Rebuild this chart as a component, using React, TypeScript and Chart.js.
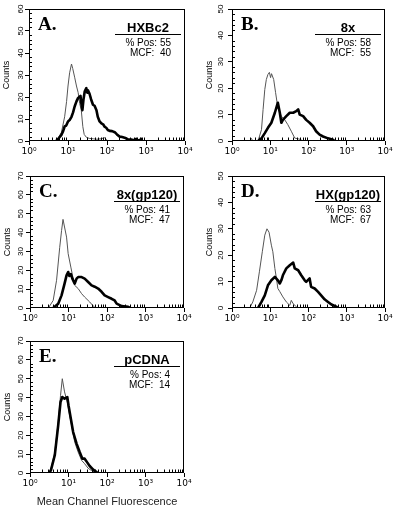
import React, { useEffect, useRef } from 'react';
import { Chart, registerables } from 'chart.js';

Chart.register(...registerables);

// ---------- tick labels & panel text ----------
const xTickValues = [1, 10, 100, 1000, 10000];
const xTickLabels = ['10⁰', '10¹', '10²', '10³', '10⁴'];
const panelLetters = ['A.', 'B.', 'C.', 'D.', 'E.'];
const sampleNames = ['HXBc2', '8x', '8x(gp120)', 'HX(gp120)', 'pCDNA'];
const percentPositive = [55, 58, 41, 63, 4];
const mcfValues = [40, 55, 47, 67, 14];
const countMax = [60, 50, 70, 50, 70];
const countStep = [10, 10, 10, 10, 10];

// ---------- Panel A ----------
const aControlX = [4.8, 5.5, 6.8, 8.2, 9.2, 10, 11, 12.3, 13.2, 14.8, 16.5, 18.2, 20, 21.9, 24, 26, 29.5, 35, 45, 55, 70, 87, 100, 120];
const aControlY = [0, 1, 4, 11, 18, 25, 31, 35, 33, 29, 25, 22, 17, 14, 6.5, 3, 1.7, 1.2, 1, 0.8, 1, 1.5, 0.3, 0];
const aStainX = [5, 5.5, 6.8, 7.5, 8.2, 9, 10, 11, 12.3, 13.5, 14.8, 16.5, 18.2, 20.9, 22, 23.4, 25, 26.9, 29.5, 31, 32.5, 35.5, 39, 43.7, 48, 53.7, 58, 64.6, 72, 79.4, 87, 95.5, 105, 117, 135, 158, 180, 209, 245, 282, 340, 417, 480, 562, 620, 700, 759, 800];
const aStainY = [0, 0.8, 2.8, 4.5, 6.6, 7, 8.9, 9.5, 11, 13, 15.7, 18, 19.6, 20.5, 17, 14, 19, 22.6, 24, 22, 23, 21.6, 19, 16.5, 16, 14, 11, 8.9, 8, 7.6, 6.5, 6, 5, 4.6, 4.5, 4, 3, 2, 1.8, 1.5, 0.8, 0.7, 0.3, 1, 0.3, 0.5, 1, 0];

// ---------- Panel B ----------
const bControlX = [2.9, 3.2, 3.5, 4.8, 5.9, 6.5, 7.2, 7.9, 8.7, 9.5, 10.2, 10.8, 12.3, 13.8, 15.8, 19.5, 24, 28.8, 35.5, 43.7, 55, 64.6, 70];
const bControlY = [0, 1, 0, 0, 4.3, 12, 19.5, 23.3, 25.2, 26, 24, 25.5, 23.3, 18.3, 12.6, 9.4, 8, 6.2, 3.7, 1.1, 0.8, 0.5, 0];
const bStainX = [4.8, 5.9, 7.2, 8.7, 10.7, 13.2, 15.8, 17.8, 19.5, 21.4, 26.3, 32.4, 39.8, 47.9, 53.7, 58.9, 72.4, 87, 107, 132, 158, 195, 240, 324, 437, 470];
const bStainY = [0, 1, 3, 5, 6.9, 10.7, 14.5, 10.7, 6.9, 8, 9.4, 10.7, 10.7, 11.3, 12, 10, 9.4, 8, 6.9, 5.6, 3.7, 2.4, 1.7, 1, 0.5, 0];

// ---------- Panel C ----------
const cControlX = [3.0, 4.0, 4.9, 5.9, 6.6, 7.2, 8.9, 9.8, 11.5, 13.2, 14.5, 17.8, 21.9, 26.3, 35.5, 43.7, 50];
const cControlY = [0, 4, 14.7, 32, 41, 47, 37.6, 28.8, 21.7, 15.6, 12, 10.3, 7.6, 5.8, 3.2, 1.1, 0];
const cStainX = [4.0, 5.4, 6.6, 7.9, 8.9, 9.8, 10.5, 11.5, 12.6, 14.5, 16.2, 17.8, 21.9, 26.3, 32.4, 39.8, 47.9, 58.9, 72.4, 87, 107, 132, 158, 178, 240, 355, 400];
const cStainY = [0, 2.3, 6.7, 12.9, 17.3, 19.1, 17, 18, 15.6, 12.9, 15.6, 16.4, 16.4, 15.6, 13.8, 12, 11.3, 10.3, 8.6, 6.7, 5.8, 4.9, 4, 2.3, 1, 0.6, 0];

// ---------- Panel D ----------
const dControlX = [2.9, 3.5, 4.4, 5.2, 6.2, 7.2, 8.2, 9.3, 10.7, 11.7, 13.2, 14.5, 15.8, 17.8, 21.4, 26.3, 32.4, 35.5, 39.8, 47.9, 52];
const dControlY = [0, 2.3, 6.7, 13.7, 21.3, 27.6, 30, 28.7, 23.8, 21.3, 15, 11.2, 7.4, 6.2, 4.2, 2.3, 1, 2.9, 1.6, 0.5, 0];
const dStainX = [4.8, 5.9, 7.2, 8.7, 10.7, 13.2, 15.8, 17.8, 19.5, 21.4, 26.3, 32.4, 39.8, 43.7, 53.7, 64.6, 79.4, 87, 107, 117, 145, 178, 214, 263, 324, 398, 537, 580];
const dStainY = [0, 2.3, 4.8, 8.6, 10.5, 11.8, 10.5, 9.3, 10.5, 12.4, 15, 16.2, 17.2, 15, 14.3, 12.4, 10.5, 9.9, 11.2, 8, 7.4, 6.1, 4.8, 3.3, 2.3, 1.3, 0.5, 0];

// ---------- Panel E ----------
const eControlX = [3.0, 3.5, 4.4, 5.4, 6.2, 6.9, 7.9, 9.3, 10.7, 12, 14.5, 17.8, 21.9, 26.3, 32.4, 39.8, 47.9, 55];
const eControlY = [0, 2.3, 11, 27, 41, 50, 43, 37.6, 30.6, 25.3, 16.4, 11.1, 6.7, 4.9, 2.5, 1.3, 0.6, 0];
const eStainX = [3.2, 3.5, 4.4, 5.4, 6.2, 6.9, 7.9, 9.3, 10, 11.5, 13.2, 16.2, 19.5, 22.9, 26.3, 30.9, 35.5, 43.7, 53.7, 60];
const eStainY = [0, 1.5, 9.4, 25.3, 37.6, 40.3, 39.4, 40.3, 35.9, 28.8, 21.7, 15.6, 11.1, 7.6, 7.6, 5.5, 3.7, 1.8, 0.5, 0];

const controlXs = [aControlX, bControlX, cControlX, dControlX, eControlX];
const controlYs = [aControlY, bControlY, cControlY, dControlY, eControlY];
const stainXs = [aStainX, bStainX, cStainX, dStainX, eStainX];
const stainYs = [aStainY, bStainY, cStainY, dStainY, eStainY];

// ---------- layout (canvas boxes and plot areas, canvas-relative) ----------
const layouts = [
  { left: 0, top: 0, w: 200, h: 165, aL: 29, aT: 9, aR: 185, aB: 141 },
  { left: 200, top: 0, w: 203, h: 165, aL: 32, aT: 9, aR: 185, aB: 141 },
  { left: 0, top: 165, w: 200, h: 165, aL: 30, aT: 11, aR: 184, aB: 143 },
  { left: 200, top: 165, w: 203, h: 165, aL: 32, aT: 11, aR: 185, aB: 143 },
  { left: 0, top: 330, w: 200, h: 185, aL: 30, aT: 11, aR: 184, aB: 143 },
];

const SANS = "'Liberation Sans', Arial, 'DejaVu Sans', sans-serif";
const TICKSANS = "'DejaVu Sans', 'Liberation Sans', sans-serif";
const SERIF = "'Liberation Serif', 'Times New Roman', serif";

function decorPlugin(i: number) {
  return {
    id: 'decor' + i,
    afterDraw(chart: any) {
      const { ctx, chartArea: a, scales } = chart;
      const xs = scales.x;
      const ys = scales.y;
      ctx.save();
      ctx.strokeStyle = '#000';
      ctx.lineWidth = 1;
      const l = Math.round(a.left) + 0.5;
      const t = Math.round(a.top) + 0.5;
      const r = Math.round(a.right) - 0.5;
      const b = Math.round(a.bottom) - 0.5;
      ctx.strokeRect(l, t, r - l, b - t);
      // minor log ticks (inward)
      ctx.beginPath();
      for (let k = 0; k < 4; k++) {
        for (let m = 2; m <= 9; m++) {
          const px = Math.round(xs.getPixelForValue(m * Math.pow(10, k))) + 0.5;
          ctx.moveTo(px, b);
          ctx.lineTo(px, b - 3);
        }
      }
      // minor count ticks (inward)
      for (let v = 2; v < countMax[i]; v += 2) {
        if (v % countStep[i] === 0) continue;
        const py = Math.round(ys.getPixelForValue(v)) + 0.5;
        ctx.moveTo(l, py);
        ctx.lineTo(l + 2.5, py);
      }
      ctx.stroke();

      // annotations
      ctx.fillStyle = '#000';
      ctx.textBaseline = 'alphabetic';
      ctx.font = `bold 19px ${SERIF}`;
      ctx.textAlign = 'left';
      ctx.fillText(panelLetters[i], a.left + 9, a.top + 21);

      ctx.font = `bold 13px ${SANS}`;
      ctx.textAlign = 'center';
      ctx.fillText(sampleNames[i], a.right - 37, a.top + 23);

      ctx.beginPath();
      ctx.moveTo(a.right - 70, Math.round(a.top + 25) + 0.5);
      ctx.lineTo(a.right - 4, Math.round(a.top + 25) + 0.5);
      ctx.stroke();

      ctx.font = `10px ${SANS}`;
      ctx.textAlign = 'right';
      ctx.fillText(`% Pos: ${percentPositive[i]}`, a.right - 14, a.top + 37);
      ctx.fillText(`MCF:  ${mcfValues[i]}`, a.right - 14, a.top + 47);
      ctx.restore();
    },
  };
}

function makeConfig(i: number): any {
  const L = layouts[i];
  const control = controlXs[i].map((x, j) => ({ x, y: controlYs[i][j] }));
  const stain = stainXs[i].map((x, j) => ({ x, y: stainYs[i][j] }));
  return {
    type: 'line',
    data: {
      datasets: [
        {
          label: 'stained',
          data: stain,
          borderColor: '#000',
          borderWidth: 2.6,
          borderJoinStyle: 'round',
          pointRadius: 0,
          tension: 0,
          fill: false,
        },
        {
          label: 'control',
          data: control,
          borderColor: '#555',
          borderWidth: 1,
          pointRadius: 0,
          tension: 0,
          fill: false,
        },
      ],
    },
    options: {
      responsive: false,
      animation: false,
      events: [],
      layout: { padding: { left: 0, top: L.aT, right: L.w - L.aR, bottom: 0 } },
      plugins: { legend: { display: false }, tooltip: { enabled: false }, title: { display: false } },
      scales: {
        x: {
          type: 'logarithmic',
          min: 1,
          max: 10000,
          afterBuildTicks: (s: any) => {
            s.ticks = xTickValues.map((v) => ({ value: v, major: true }));
          },
          afterFit: (s: any) => {
            s.height = L.h - L.aB;
          },
          ticks: {
            autoSkip: false,
            minRotation: 0,
            maxRotation: 0,
            padding: 1,
            color: '#000',
            font: { family: TICKSANS, size: 9 },
            callback: (_v: any, idx: number) => xTickLabels[idx],
          },
          grid: { drawOnChartArea: false, drawTicks: true, tickLength: 4, color: '#000', lineWidth: 1 },
          border: { display: false },
          title: {
            display: i === 4,
            text: 'Mean Channel Fluorescence',
            color: '#222',
            font: { family: SANS, size: 11 },
            padding: { top: 0, bottom: 6 },
          },
        },
        y: {
          type: 'linear',
          min: 0,
          max: countMax[i],
          afterFit: (s: any) => {
            s.width = L.aL;
          },
          ticks: {
            stepSize: countStep[i],
            autoSkip: false,
            minRotation: 90,
            maxRotation: 90,
            crossAlign: 'center',
            padding: Math.max(0, L.aL - 29),
            color: '#000',
            font: { family: SANS, size: 8 },
          },
          grid: { drawOnChartArea: false, drawTicks: true, tickLength: 4, color: '#000', lineWidth: 1 },
          border: { display: false },
          title: {
            display: true,
            text: 'Counts',
            color: '#000',
            font: { family: SANS, size: 9 },
            padding: { top: Math.max(0, L.aL - 27.5), bottom: 0 },
          },
        },
      },
    },
    plugins: [decorPlugin(i)],
  };
}

export default function App() {
  const refs = useRef<(HTMLCanvasElement | null)[]>([]);
  useEffect(() => {
    const charts = layouts.map((_L, i) => new Chart(refs.current[i] as HTMLCanvasElement, makeConfig(i)));
    return () => charts.forEach((c) => c.destroy());
  }, []);
  return (
    <div style={{ position: 'absolute', left: 0, top: 0, width: 403, height: 515, background: '#fff' }}>
      {layouts.map((L, i) => (
        <canvas
          key={i}
          ref={(el) => {
            refs.current[i] = el;
          }}
          width={L.w}
          height={L.h}
          style={{ position: 'absolute', left: L.left, top: L.top, width: L.w, height: L.h }}
        />
      ))}
    </div>
  );
}
